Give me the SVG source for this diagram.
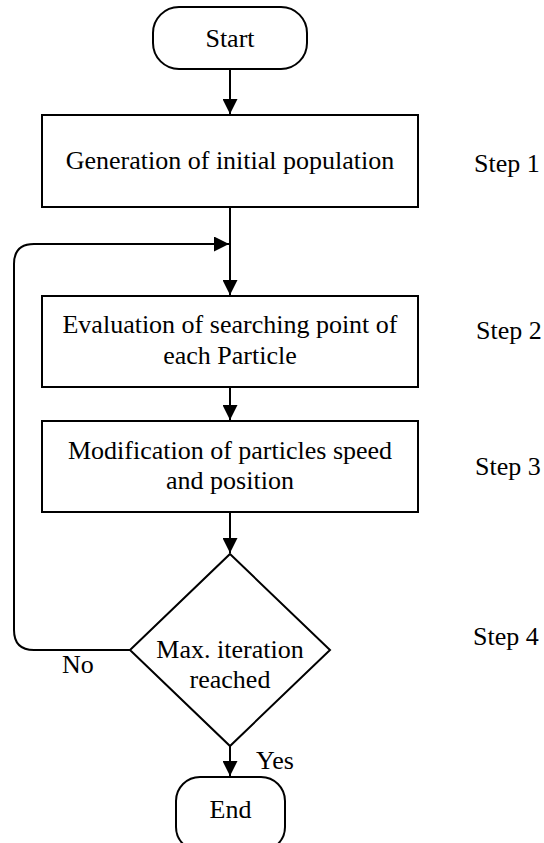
<svg xmlns="http://www.w3.org/2000/svg" width="544" height="843" viewBox="0 0 544 843">
<defs>
<marker id="ah" viewBox="0 0 10 10" refX="10" refY="5" markerWidth="15" markerHeight="15" markerUnits="userSpaceOnUse" orient="auto">
<path d="M0,0 L10,5 L0,10 Z" fill="#000"/>
</marker>
<style>
.s{fill:#fff;stroke:#000;stroke-width:2}
text{font-family:'Liberation Serif','Times New Roman',serif;font-size:26px;fill:#000}
.m{text-anchor:middle}
.c{fill:none;stroke:#000;stroke-width:2}
</style>
</defs>
<rect width="544" height="843" fill="#fff"/>
<g id="connectors">
<path class="c" d="M230,69 V114" marker-end="url(#ah)"/>
<path class="c" d="M230,207 V295" marker-end="url(#ah)"/>
<path class="c" d="M130,650 H34 Q14,650 14,630 V264 Q14,244 34,244 H229" marker-end="url(#ah)"/>
<path class="c" d="M230,387 V420" marker-end="url(#ah)"/>
<path class="c" d="M230,512 V553" marker-end="url(#ah)"/>
<path class="c" d="M230,746 V776" marker-end="url(#ah)"/>
</g>
<g id="start">
<rect class="s" x="153" y="7" width="154" height="62" rx="26"/>
<text class="m" x="230" y="47">Start</text>
</g>
<g id="step1box">
<rect class="s" x="42" y="115" width="376" height="92"/>
<text class="m" x="230" y="169">Generation of initial population</text>
</g>
<g id="step2box">
<rect class="s" x="42" y="296" width="376" height="91"/>
<text class="m" x="230" y="333">Evaluation of searching point of</text>
<text class="m" x="230" y="364">each Particle</text>
</g>
<g id="step3box">
<rect class="s" x="42" y="421" width="376" height="91"/>
<text class="m" x="230" y="459">Modification of particles speed</text>
<text class="m" x="230" y="489">and position</text>
</g>
<g id="decision">
<polygon class="s" points="230,554 330,650 230,746 130,650"/>
<text class="m" x="230" y="658">Max. iteration</text>
<text class="m" x="230" y="688">reached</text>
</g>
<g id="end">
<rect class="s" x="176" y="777" width="109" height="74" rx="24"/>
<text class="m" x="230.5" y="818">End</text>
</g>
<g id="labels">
<text x="474" y="172">Step 1</text>
<text x="476" y="339">Step 2</text>
<text x="475" y="475">Step 3</text>
<text x="473" y="645">Step 4</text>
<text x="62" y="673">No</text>
<text x="256" y="769">Yes</text>
</g>
</svg>
